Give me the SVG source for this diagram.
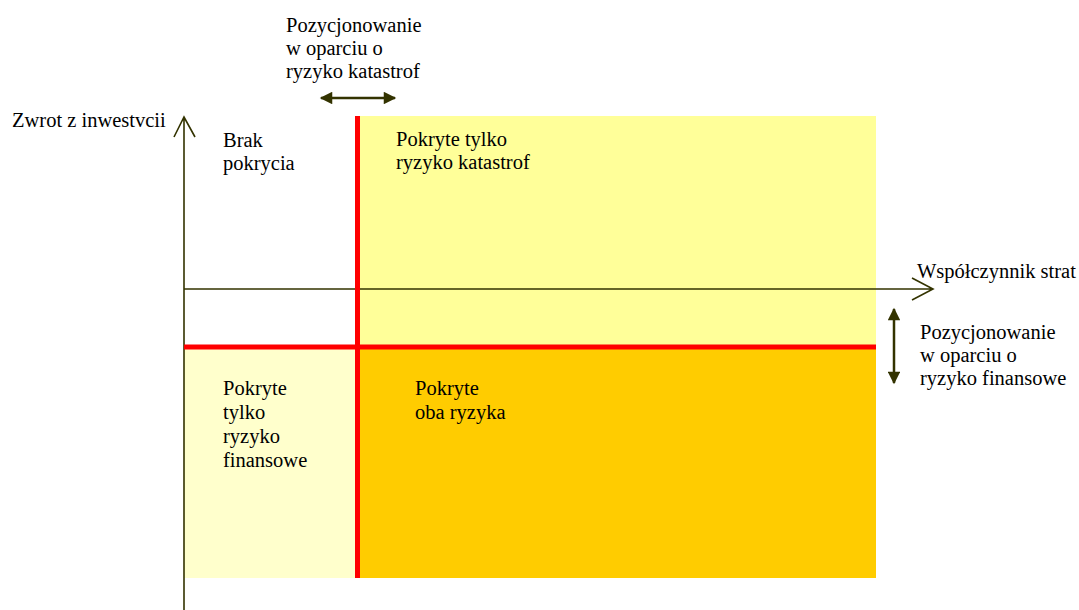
<svg xmlns="http://www.w3.org/2000/svg" width="1079" height="610" viewBox="0 0 1079 610">
<style>
text{font-family:"Liberation Serif","Times New Roman",serif;font-size:20.5px;fill:#000}
.ax{stroke:#333300;stroke-width:1.6;fill:none}
.red{stroke:#ff0000;stroke-width:5;fill:none}
.dbl{stroke:#333300;stroke-width:2.5;fill:none}
</style>
<defs>
<marker id="tri" viewBox="0 0 10 10" refX="9" refY="5" markerWidth="5.5" markerHeight="5" orient="auto-start-reverse" markerUnits="strokeWidth">
<path d="M0,0 L10,5 L0,10 z" fill="#333300"/>
</marker>
</defs>
<rect width="1079" height="610" fill="#fff"/>
<g id="q-top-right"><rect x="357" y="116" width="519" height="231" fill="#ffff99"/></g>
<g id="q-bottom-right"><rect x="357" y="347" width="519" height="231" fill="#ffcc00"/></g>
<g id="q-bottom-left"><rect x="184" y="347" width="173" height="231" fill="#ffffcc"/></g>
<g id="connectors">
<path class="ax" d="M184,610 V117 M174,137 L184,117 L195,137"/>
<path class="ax" d="M184,289 H932 M912,278 L933,289 L912,300"/>
<path class="red" d="M357.5,116 V578"/>
<path class="red" d="M184,347 H876"/>
<path class="dbl" d="M321,98 H395" marker-start="url(#tri)" marker-end="url(#tri)"/>
<path class="dbl" d="M894,309 V383" marker-start="url(#tri)" marker-end="url(#tri)"/>
</g>
<g font-family="Liberation Serif, Times New Roman, serif">
<g id="label-catastrophe"><text x="286" y="32">Pozycjonowanie</text><text x="286" y="55">w oparciu o</text><text x="286" y="78">ryzyko katastrof</text></g>
<g id="label-yaxis"><text x="12" y="127">Zwrot z inwestvcii</text></g>
<g id="label-brak"><text x="223" y="147">Brak</text><text x="223" y="170">pokrycia</text></g>
<g id="label-kat"><text x="396" y="146">Pokryte tylko</text><text x="396" y="169">ryzyko katastrof</text></g>
<g id="label-xaxis"><text x="917" y="278">Współczynnik strat</text></g>
<g id="label-financial"><text x="920" y="339">Pozycjonowanie</text><text x="920" y="362">w oparciu o</text><text x="920" y="385">ryzyko finansowe</text></g>
<g id="label-fin-only"><text x="223" y="395">Pokryte</text><text x="223" y="419">tylko</text><text x="223" y="443">ryzyko</text><text x="223" y="467">finansowe</text></g>
<g id="label-both"><text x="415" y="395">Pokryte</text><text x="415" y="419">oba ryzyka</text></g>
</g>
</svg>
